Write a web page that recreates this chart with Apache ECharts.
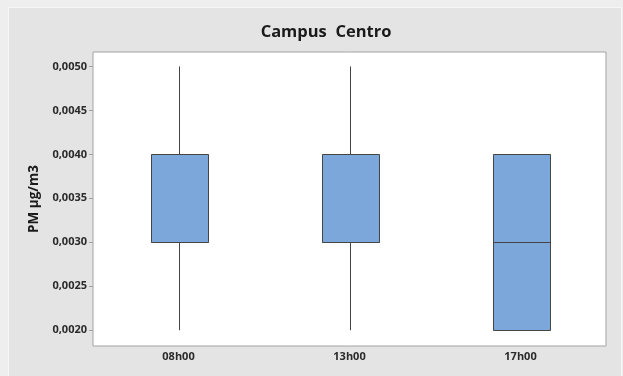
<!DOCTYPE html>
<html>
<head>
<meta charset="utf-8">
<script src="https://cdn.jsdelivr.net/npm/echarts@6/dist/echarts.min.js"></script>
<style>
  html, body { margin: 0; padding: 0; background: #eeeeee; }
  #chart { width: 623px; height: 376px; }
</style>
</head>
<body>
<div id="chart"></div>
<script>
// Sampling times
const categories = ['08h00', '13h00', '17h00'];
// Box statistics per time: [min, Q1, median, Q3, max]
const whiskerLow = [0.0020, 0.0020, 0.0020];
const quartile1  = [0.0030, 0.0030, 0.0020];
const medians    = [0.0030, 0.0030, 0.0030];
const quartile3  = [0.0040, 0.0040, 0.0040];
const whiskerHigh = [0.0050, 0.0050, 0.0040];
// Y axis tick labels
const yTicks = [0.0020, 0.0025, 0.0030, 0.0035, 0.0040, 0.0045, 0.0050];

const boxData = categories.map((c, i) =>
  [i, whiskerLow[i], quartile1[i], medians[i], quartile3[i], whiskerHigh[i]]);

const font = '"Open Sans", "Noto Sans", sans-serif';
const chart = echarts.init(document.getElementById('chart'));

function renderBox(params, api) {
  const x = api.value(0);
  const lo = api.coord([x, api.value(1)]);
  const q1 = api.coord([x, api.value(2)]);
  const md = api.coord([x, api.value(3)]);
  const q3 = api.coord([x, api.value(4)]);
  const hi = api.coord([x, api.value(5)]);
  const band = api.size([1, 0])[0];
  const w = band / 3;
  const cx = Math.round(lo[0]) + 0.5;
  const left = Math.round(cx - w / 2) + 0.5;
  const stroke = { stroke: '#444', lineWidth: 1 };
  const children = [];
  if (hi[1] < q3[1]) {
    children.push({ type: 'line', shape: { x1: cx, y1: hi[1], x2: cx, y2: q3[1] }, style: stroke });
  }
  if (lo[1] > q1[1]) {
    children.push({ type: 'line', shape: { x1: cx, y1: q1[1], x2: cx, y2: lo[1] }, style: stroke });
  }
  children.push({
    type: 'rect',
    shape: { x: left, y: Math.round(q3[1]) + 0.5, width: Math.round(w), height: Math.round(q1[1]) - Math.round(q3[1]) },
    style: { fill: '#7ca7da', stroke: '#454545', lineWidth: 1 }
  });
  children.push({
    type: 'line',
    shape: { x1: left, y1: Math.round(md[1]) + 0.5, x2: left + Math.round(w), y2: Math.round(md[1]) + 0.5 },
    style: { stroke: '#454545', lineWidth: 1 }
  });
  return { type: 'group', children };
}

chart.setOption({
  backgroundColor: '#eeeeee',
  animation: false,
  graphic: [
    {
      type: 'rect', z: -10,
      shape: { x: 8.5, y: 7.5, width: 613, height: 380 },
      style: { fill: '#e4e4e4', stroke: '#f6f6f6', lineWidth: 1 }
    }
  ],
  title: {
    text: 'Campus  Centro',
    left: 321, top: 19, textAlign: 'center',
    textStyle: { fontFamily: font, fontSize: 16.5, fontWeight: 'bold', color: '#1a1a1a' }
  },
  grid: {
    left: 93, top: 52, width: 513, height: 294,
    show: true, backgroundColor: '#ffffff', borderColor: '#a3a3a3', borderWidth: 1
  },
  xAxis: {
    type: 'category',
    data: categories,
    boundaryGap: true,
    axisLine: { show: false },
    axisTick: { alignWithLabel: true, length: 4, lineStyle: { color: '#a0a0a0' } },
    axisLabel: { margin: 5, fontFamily: font, fontSize: 11, fontWeight: 'bold', color: '#2a2a2a' },
    splitLine: { show: false }
  },
  yAxis: {
    type: 'value',
    min: 0.001821, max: 0.005164,
    name: 'PM µg/m3',
    nameLocation: 'middle',
    nameGap: 51,
    nameRotate: 90,
    nameTextStyle: { fontFamily: font, fontSize: 13.5, fontWeight: 'bold', color: '#1a1a1a' },
    axisLine: { show: false },
    axisTick: { show: true, length: 4, customValues: yTicks, lineStyle: { color: '#a0a0a0' } },
    axisLabel: {
      customValues: yTicks,
      margin: 6,
      fontFamily: font, fontSize: 11, fontWeight: 'bold', color: '#2a2a2a',
      formatter: v => v.toFixed(4).replace('.', ',')
    },
    splitLine: { show: false }
  },
  series: [{
    type: 'custom',
    renderItem: renderBox,
    encode: { x: 0, y: [1, 2, 3, 4, 5] },
    data: boxData
  }]
});
</script>
</body>
</html>
